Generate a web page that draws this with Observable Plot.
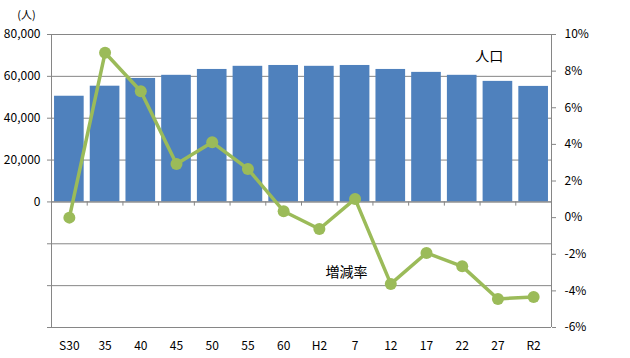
<!DOCTYPE html>
<html>
<head>
<meta charset="utf-8">
<script src="https://cdn.jsdelivr.net/npm/d3@7"></script>
<script src="https://cdn.jsdelivr.net/npm/@observablehq/plot@0.6"></script>
<style>
  html, body { margin: 0; padding: 0; background: #fff; }
  #chart { position: relative; width: 630px; height: 358px; }
  svg { font-family: "Noto Sans CJK JP", "Noto Sans", sans-serif; }
</style>
</head>
<body>
<div id="chart"></div>
<script>
const categories = ["S30","35","40","45","50","55","60","H2","7","12","17","22","27","R2"];
const population = [50500, 55300, 59000, 60500, 63300, 64800, 65200, 64800, 65200, 63300, 61900, 60500, 57600, 55200];
const rate = [0.0, 9.0, 6.9, 2.93, 4.11, 2.66, 0.35, -0.62, 1.02, -3.62, -1.93, -2.66, -4.44, -4.33];
const leftTicks = [-60000, -40000, -20000, 0, 20000, 40000, 60000, 80000];
const rightTicks = [-6, -4, -2, 0, 2, 4, 6, 8, 10];

// map rate (%) onto population axis: 10% <-> 80000, -6% <-> -60000
const toPop = r => r * 8750 - 7500;
const fromPop = p => Math.round((p + 7500) / 8750);

const n = categories.length;
const data = categories.map((c, i) => ({i, cat: c, pop: population[i], rate: rate[i], ry: toPop(rate[i])}));
const centers = d3.range(n).map(i => i + 0.5);
const bounds = d3.range(1, n);
const gap = 0.085;
const gray = "#868686";

const plot = Plot.plot({
  width: 630,
  height: 358,
  marginLeft: 51,
  marginRight: 79,
  marginTop: 34,
  marginBottom: 31,
  style: {fontSize: "12px", fontFamily: "'Noto Sans CJK JP', 'Noto Sans', sans-serif", color: "#000"},
  x: {type: "linear", domain: [0, n], label: null},
  y: {domain: [-60000, 80000], label: null},
  marks: [
    Plot.ruleY(leftTicks, {stroke: gray, strokeWidth: 1}),
    Plot.rectY(data, {x1: d => d.i + gap, x2: d => d.i + 1 - gap, y1: 0, y2: "pop", fill: "#4F81BD"}),
    Plot.ruleY([0], {stroke: gray, strokeWidth: 1}),
    Plot.ruleX(bounds, {y1: 0, y2: -2000, stroke: gray}),
    Plot.ruleX([0, n], {y1: -60000, y2: 80000, stroke: gray}),
    Plot.line(data, {x: d => d.i + 0.5, y: "ry", stroke: "#9BBB59", strokeWidth: 3.5}),
    Plot.dot(data, {x: d => d.i + 0.5, y: "ry", r: 6, fill: "#9BBB59"}),
    Plot.axisY(leftTicks, {anchor: "left", tickSize: 4, tickPadding: 7, stroke: gray,
      tickFormat: d => d >= 0 ? d3.format(",")(d) : "", label: null}),
    Plot.axisY(rightTicks.map(toPop), {anchor: "right", tickSize: 4, tickPadding: 9, stroke: gray,
      tickFormat: d => fromPop(d) + "%", label: null}),
    Plot.axisX(centers, {anchor: "bottom", tickSize: 0, tickPadding: 14, label: null,
      tickFormat: d => categories[Math.floor(d)]}),
    Plot.text(["人口"], {x: () => 12.26, y: () => 69500, text: d => d, fontSize: 14, fill: "#000"}),
    Plot.text(["増減率"], {x: () => 8.26, y: () => -33700, text: d => d, fontSize: 14, fill: "#000"}),
    Plot.text(["(人)"], {x: () => -0.7, y: () => 89000, text: d => d, fontSize: 11, fill: "#000"})
  ]
});
document.getElementById("chart").appendChild(plot);
</script>
</body>
</html>
